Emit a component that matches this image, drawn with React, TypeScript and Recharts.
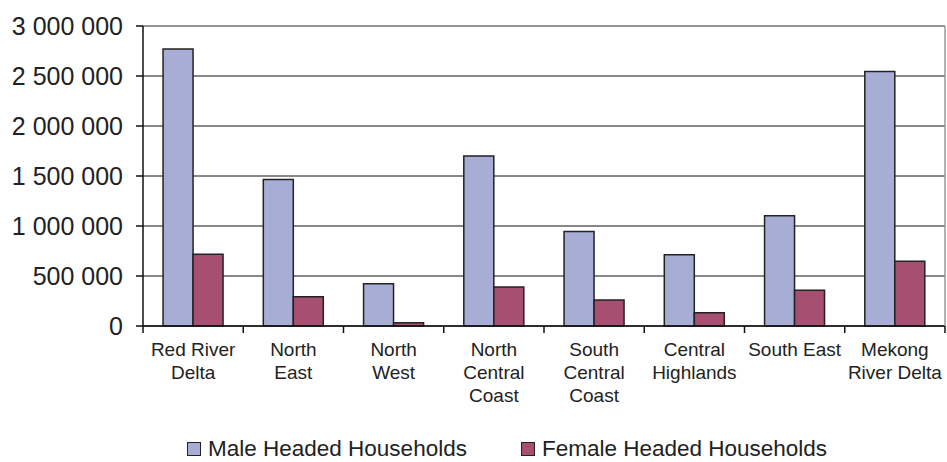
import React from "react";
import {
  BarChart,
  Bar,
  XAxis,
  YAxis,
  CartesianGrid,
  Legend,
  ReferenceLine,
} from "recharts";

const categories = [
  "Red River Delta",
  "North East",
  "North West",
  "North Central Coast",
  "South Central Coast",
  "Central Highlands",
  "South East",
  "Mekong River Delta",
];

// how each category name is broken over lines under the axis
const tickLines = [
  ["Red River", "Delta"],
  ["North", "East"],
  ["North", "West"],
  ["North", "Central", "Coast"],
  ["South", "Central", "Coast"],
  ["Central", "Highlands"],
  ["South East"],
  ["Mekong", "River Delta"],
];

const maleHeaded = [2770000, 1465000, 423000, 1700000, 945000, 713000, 1103000, 2545000];
const femaleHeaded = [717000, 293000, 33000, 390000, 260000, 133000, 357000, 647000];

const yTicks = [0, 500000, 1000000, 1500000, 2000000, 2500000, 3000000];

const MALE = "#A8ADD6";
const FEMALE = "#A64F70";
const FONT = "'Liberation Sans', Arial, sans-serif";

const data = categories.map((name, i) => ({
  name,
  male: maleHeaded[i],
  female: femaleHeaded[i],
}));

const fmt = (v: number) => String(v).replace(/\B(?=(\d{3})+(?!\d))/g, " ");

function CategoryTick(props: any) {
  const { x, y, payload, index } = props;
  const half = payload && payload.offset ? payload.offset : 50.1;
  const lines = tickLines[index] || [String(payload.value)];
  const last = index === categories.length - 1;
  return (
    <g>
      <line x1={x - half} x2={x - half} y1={y} y2={y + 7} stroke="#111" strokeWidth={1.5} />
      {last && <line x1={x + half} x2={x + half} y1={y} y2={y + 7} stroke="#111" strokeWidth={1.5} />}
      <text x={x} y={y + 30} textAnchor="middle" fontSize={19} fontFamily={FONT} fill="#222">
        {lines.map((l: string, k: number) => (
          <tspan key={k} x={x} dy={k === 0 ? 0 : 23}>
            {l}
          </tspan>
        ))}
      </text>
    </g>
  );
}

function LegendBox() {
  const item = (color: string, label: string, ml: number) => (
    <div style={{ display: "flex", alignItems: "center", marginLeft: ml, height: 20 }}>
      <span
        style={{
          width: 12,
          height: 12,
          background: color,
          border: "1px solid #222",
          display: "inline-block",
          marginRight: 7,
        }}
      />
      <span style={{ fontSize: 22.5, lineHeight: "20px", fontFamily: FONT, color: "#222", whiteSpace: "nowrap" }}>
        {label}
      </span>
    </div>
  );
  return (
    <div style={{ display: "flex", height: 20, paddingTop: 3 }}>
      {item(MALE, "Male Headed Households", 187)}
      {item(FEMALE, "Female Headed Households", 54)}
    </div>
  );
}

export default function App() {
  return (
    <div style={{ position: "absolute", left: 0, top: 0, background: "#fff" }}>
      <BarChart
        width={947}
        height={462}
        data={data}
        margin={{ top: 26, right: 1, bottom: 0, left: 0 }}
        barCategoryGap="20%"
        barGap={0}
      >
        <CartesianGrid vertical={false} stroke="#111" strokeOpacity={1} />
        <XAxis
          dataKey="name"
          height={110}
          interval={0}
          tickSize={0}
          tickMargin={0}
          tickLine={false}
          axisLine={{ stroke: "#111", strokeWidth: 1.5 }}
          tick={<CategoryTick />}
        />
        <YAxis
          width={143}
          domain={[0, 3000000]}
          ticks={yTicks}
          interval={0}
          tickFormatter={fmt}
          tickSize={7}
          tickMargin={13}
          axisLine={{ stroke: "#111", strokeWidth: 1.5 }}
          tickLine={{ stroke: "#111", strokeWidth: 1.5 }}
          tick={{ fontSize: 25, fontFamily: FONT, fill: "#222" }}
        />
        <YAxis
          yAxisId="border"
          orientation="right"
          width={1}
          domain={[0, 3000000]}
          tick={false}
          tickLine={false}
          axisLine={{ stroke: "#999", strokeWidth: 1.5 }}
        />
        <ReferenceLine y={3000000} stroke="#999" strokeWidth={1.5} />
        <Legend
          verticalAlign="bottom"
          height={26}
          wrapperStyle={{ left: 0, width: 947 }}
          content={() => <LegendBox />}
        />
        <Bar dataKey="male" name="Male Headed Households" fill={MALE} stroke="#222" strokeWidth={1.5} isAnimationActive={false} />
        <Bar dataKey="female" name="Female Headed Households" fill={FEMALE} stroke="#222" strokeWidth={1.5} isAnimationActive={false} />
      </BarChart>
    </div>
  );
}
